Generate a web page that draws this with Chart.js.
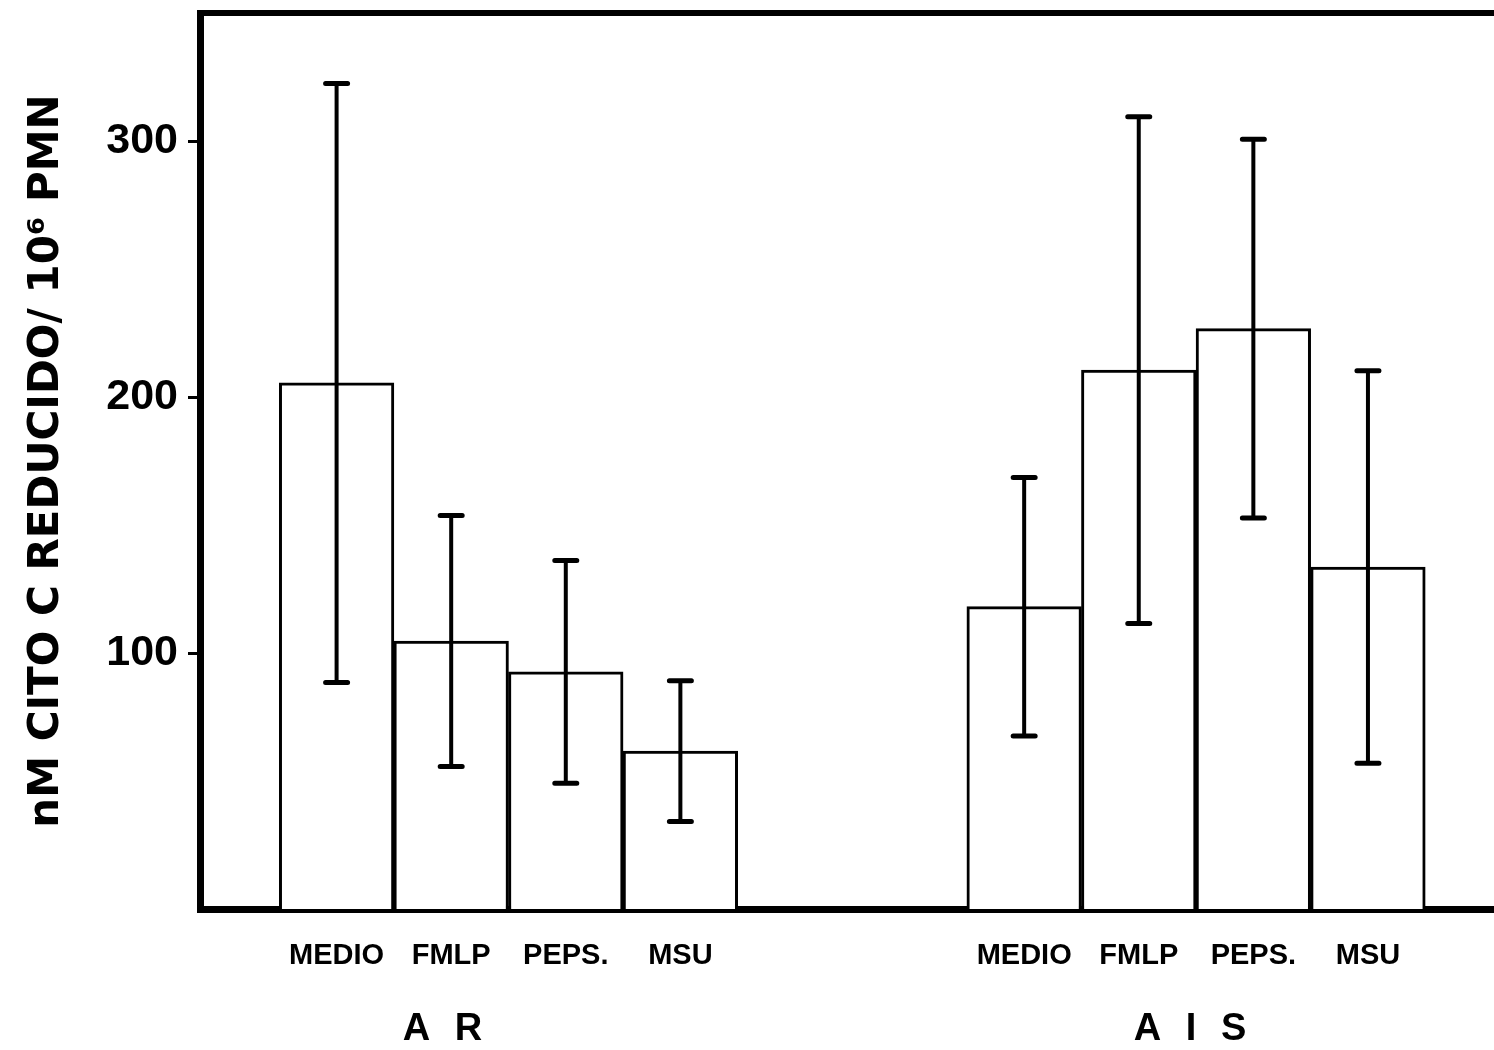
<!DOCTYPE html>
<html><head><meta charset="utf-8">
<script src="https://cdn.jsdelivr.net/npm/chart.js@4.4.0/dist/chart.umd.min.js"></script>
<style>html,body{margin:0;padding:0;background:#fff;} canvas{display:block;}</style>
</head><body>
<canvas id="c" width="1494" height="1050"></canvas>
<script>
// ---- data ----
const categories = ['MEDIO', 'FMLP', 'PEPS.', 'MSU'];
const groups = ['A R', 'A I S'];
const arMean = [205.5, 104.7, 92.6, 61.7];
const arSD = [117, 49, 43.5, 27.5];
const aisMean = [118.1, 210.5, 226.7, 133.6];
const aisSD = [50.5, 99, 74, 76.7];
const yTicks = [100, 200, 300];
const yTitle = 'nM CITO C REDUCIDO/ 10\u2076 PMN';

// ---- build chart data ----
const stride = 6; // category slots per group (incl. gap)
const groupMeans = [arMean, aisMean];
const groupSDs = [arSD, aisSD];
const points = [];
const tickPositions = [];
groups.forEach((g, gi) => {
  categories.forEach((c, ci) => {
    points.push({ x: gi * stride + ci, y: groupMeans[gi][ci], sd: groupSDs[gi][ci] });
    tickPositions.push(gi * stride + ci);
  });
});

const errorBars = {
  id: 'errorBars',
  afterDatasetsDraw(chart, args, opts) {
    const ctx = chart.ctx, y = chart.scales.y;
    chart.data.datasets.forEach((ds, di) => {
      const meta = chart.getDatasetMeta(di);
      meta.data.forEach((el, i) => {
        const p = ds.data[i];
        const x = el.x;
        const yt = y.getPixelForValue(p.y + p.sd);
        const yb = y.getPixelForValue(p.y - p.sd);
        ctx.save();
        ctx.strokeStyle = '#000';
        ctx.lineWidth = opts.lineWidth;
        ctx.beginPath(); ctx.moveTo(x, yt); ctx.lineTo(x, yb); ctx.stroke();
        ctx.lineWidth = opts.capThickness;
        ctx.lineCap = 'round';
        ctx.beginPath();
        ctx.moveTo(x - opts.capHalf, yt); ctx.lineTo(x + opts.capHalf, yt);
        ctx.moveTo(x - opts.capHalf, yb); ctx.lineTo(x + opts.capHalf, yb);
        ctx.stroke();
        ctx.restore();
      });
    });
  }
};

const groupLabels = {
  id: 'groupLabels',
  afterDraw(chart, args, opts) {
    const ctx = chart.ctx, x = chart.scales.x;
    ctx.save();
    ctx.fillStyle = '#000';
    ctx.font = opts.font;
    ctx.textAlign = 'center';
    ctx.textBaseline = 'middle';
    if ('letterSpacing' in ctx) ctx.letterSpacing = opts.letterSpacing + 'px';
    groups.forEach((g, gi) => {
      const first = x.getPixelForValue(gi * stride);
      const last = x.getPixelForValue(gi * stride + categories.length - 1);
      const cx = (first + last) / 2 + opts.offsets[gi] + opts.letterSpacing / 2;
      ctx.fillText(g, cx, opts.y);
    });
    ctx.restore();
  }
};

new Chart(document.getElementById('c'), {
  type: 'bar',
  data: {
    datasets: [{
      data: points,
      backgroundColor: '#ffffff',
      borderColor: '#000000',
      borderWidth: { top: 3, left: 3, right: 3, bottom: 0 },
      borderSkipped: false,
      barPercentage: 1,
      categoryPercentage: 1
    }]
  },
  options: {
    responsive: false,
    devicePixelRatio: 1,
    animation: false,
    layout: { padding: { top: 13, left: 0, right: 0, bottom: 0 } },
    plugins: {
      legend: { display: false },
      tooltip: { enabled: false },
      errorBars: { lineWidth: 4, capThickness: 5, capHalf: 11 },
      groupLabels: { font: 'bold 38px "Liberation Sans"', letterSpacing: 7, y: 1030, offsets: [-66, -6] }
    },
    scales: {
      x: {
        type: 'linear', position: 'bottom',
        min: -1.192, max: 10.1, offset: false,
        grid: { display: false, drawTicks: false, offset: false },
        border: { display: true, width: 7, color: '#000' },
        afterBuildTicks(s) { s.ticks = tickPositions.map(v => ({ value: v })); },
        ticks: {
          autoSkip: false, maxRotation: 0, minRotation: 0, padding: 30, color: '#000',
          font: { family: '"Liberation Sans"', size: 29, weight: 'bold' },
          callback(v) { return categories[((Math.round(v) % stride) + stride) % stride]; }
        },
        afterFit(s) { s.height = 141; s.paddingLeft = 0; s.paddingRight = 0; }
      },
      x2: {
        type: 'linear', position: 'top', min: 0, max: 1,
        grid: { display: false, drawTicks: false },
        ticks: { display: false },
        border: { display: true, width: 6, color: '#000' },
        afterFit(s) { s.height = 0; s.paddingLeft = 0; s.paddingRight = 0; }
      },
      y: {
        min: 0, max: 350,
        afterBuildTicks(s) { s.ticks = yTicks.map(v => ({ value: v })); },
        grid: { drawOnChartArea: false, drawTicks: true, tickLength: 12, tickWidth: 3, tickColor: '#000', color: '#000' },
        border: { display: true, width: 7, color: '#000' },
        ticks: { padding: 10, color: '#000', font: { family: '"Liberation Sans"', size: 43, weight: 'bold' } },
        title: {
          display: true, text: yTitle, color: '#000',
          font: { family: '"DejaVu Sans"', size: 42, weight: 'bold' },
          padding: { top: 22, bottom: 0 }
        },
        afterFit(s) { s.width = 200; s.paddingTop = 0; s.paddingBottom = 0; }
      }
    }
  },
  plugins: [errorBars, groupLabels]
});
</script>
</body></html>
